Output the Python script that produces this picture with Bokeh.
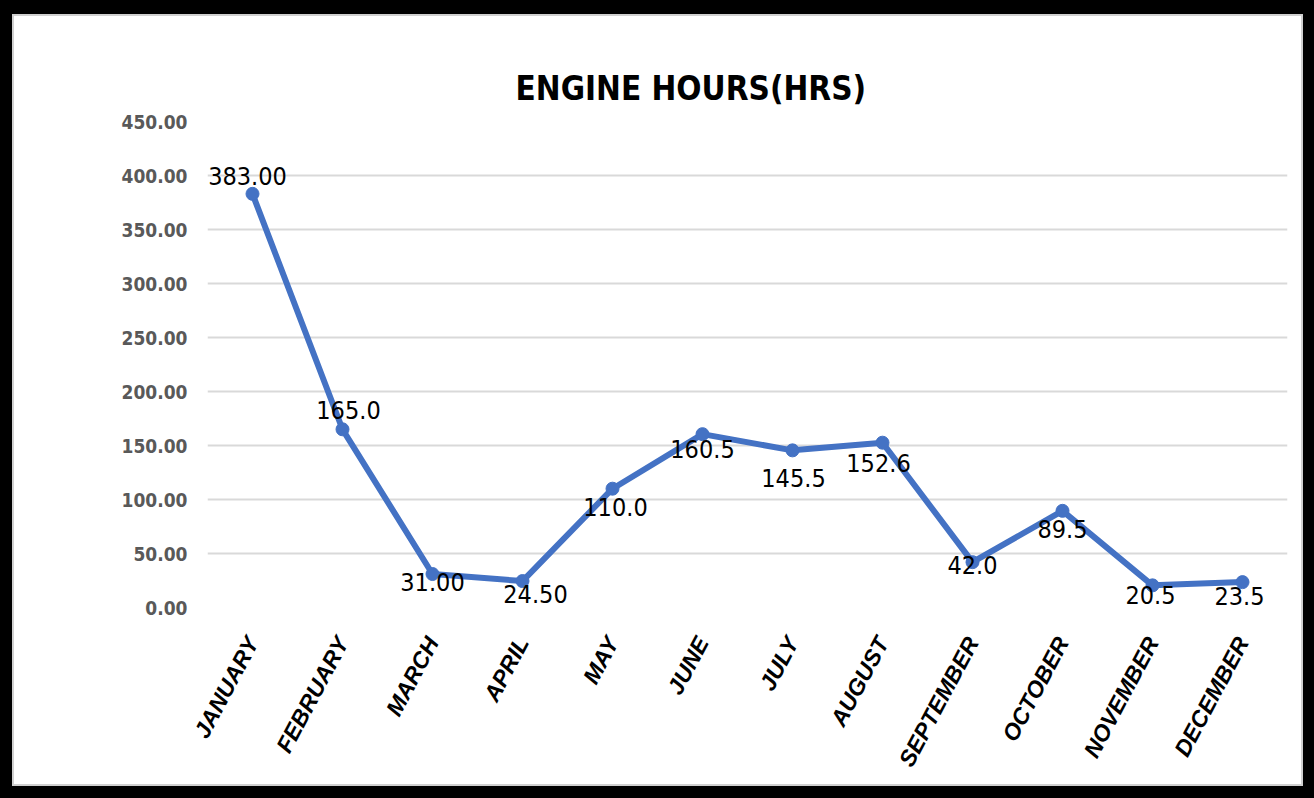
from bokeh.plotting import figure
from bokeh.models import Range1d, FactorRange, NumeralTickFormatter, ColumnDataSource
from bokeh.core.properties import value
from bokeh.embed import file_html
from bokeh.resources import INLINE

months = ["JANUARY", "FEBRUARY", "MARCH", "APRIL", "MAY", "JUNE", "JULY",
          "AUGUST", "SEPTEMBER", "OCTOBER", "NOVEMBER", "DECEMBER"]
hours = [383.0, 165.0, 31.0, 24.5, 110.0, 160.5, 145.5, 152.6, 42.0, 89.5, 20.5, 23.5]
hour_labels = ["383.00", "165.0", "31.00", "24.50", "110.0", "160.5", "145.5",
               "152.6", "42.0", "89.5", "20.5", "23.5"]
# label offsets in pixels (style, not data)
label_dx = [-5, 6, 0, 13, 3, 0, 1, -4, 0, 0, -2, -3]
label_dy = [-18, -19, 8, 13, 18, 15, 28, 20, 3, 18, 10, 14]

NARROW = "'Noto Sans Condensed', 'DejaVu Sans Condensed', sans-serif"
WIDE = "'Liberation Sans', 'DejaVu Sans', sans-serif"

W, H = 1314, 798

p = figure(width=W, height=H, output_backend="svg", toolbar_location=None,
           x_range=FactorRange(*months, range_padding=0),
           y_range=Range1d(0, 450),
           min_border_left=207, min_border_right=27,
           min_border_top=121, min_border_bottom=191,
           title="ENGINE HOURS(HRS)")

# black frame around the whole chart (drawn behind a transparent border area)
p.styles = {"box-shadow": ("inset 12px 0 0 0 black, inset 0 14px 0 0 black, "
                           "inset -11px 0 0 0 black, inset 0 -12px 0 0 black, "
                           "inset 14px 0 0 0 #d0d0d0, inset 0 16px 0 0 #d0d0d0, "
                           "inset -13px 0 0 0 #d0d0d0, inset 0 -14px 0 0 #d0d0d0")}
p.border_fill_alpha = 0
p.background_fill_color = "white"
p.outline_line_color = None

p.title.text_font = NARROW
p.title.text_font_size = "33px"
p.title.text_font_style = "bold"
p.title.text_color = "black"
p.title.align = "left"
p.title.offset = 308
p.title.standoff = 27

p.xgrid.grid_line_color = None
p.ygrid.grid_line_color = "#d9d9d9"
p.ygrid.grid_line_width = 2

p.yaxis.ticker = [0, 50, 100, 150, 200, 250, 300, 350, 400, 450]
p.yaxis.formatter = NumeralTickFormatter(format="0.00")
p.yaxis.axis_line_color = None
p.yaxis.major_tick_line_color = None
p.yaxis.minor_tick_line_color = None
p.yaxis.major_tick_out = 0
p.yaxis.major_tick_in = 0
p.yaxis.major_label_text_font = NARROW
p.yaxis.major_label_text_font_size = "19px"
p.yaxis.major_label_text_font_style = "bold"
p.yaxis.major_label_text_color = "#595959"
p.yaxis.major_label_standoff = 20

p.xaxis.axis_line_color = None
p.xaxis.major_tick_line_color = None
p.xaxis.minor_tick_line_color = None
p.xaxis.major_tick_out = 0
p.xaxis.major_tick_in = 0
p.xaxis.major_label_text_font = WIDE
p.xaxis.major_label_text_font_size = "23px"
p.xaxis.major_label_text_font_style = "bold italic"
p.xaxis.major_label_text_color = "black"
p.xaxis.major_label_orientation = 1.08
p.xaxis.major_label_standoff = 31

src = ColumnDataSource(dict(m=months, h=hours, lab=hour_labels, dx=label_dx, dy=label_dy))

p.line("m", "h", source=src, line_color="#4472C4", line_width=6)
p.scatter("m", "h", source=src, size=13, fill_color="#4472C4", line_color="#4472C4")
p.text("m", "h", text="lab", source=src, x_offset="dx", y_offset="dy",
       text_align="center", text_baseline="middle",
       text_font=value(NARROW), text_font_size="25px", text_color="black")

open("out.html", "w").write(file_html(p, INLINE))
